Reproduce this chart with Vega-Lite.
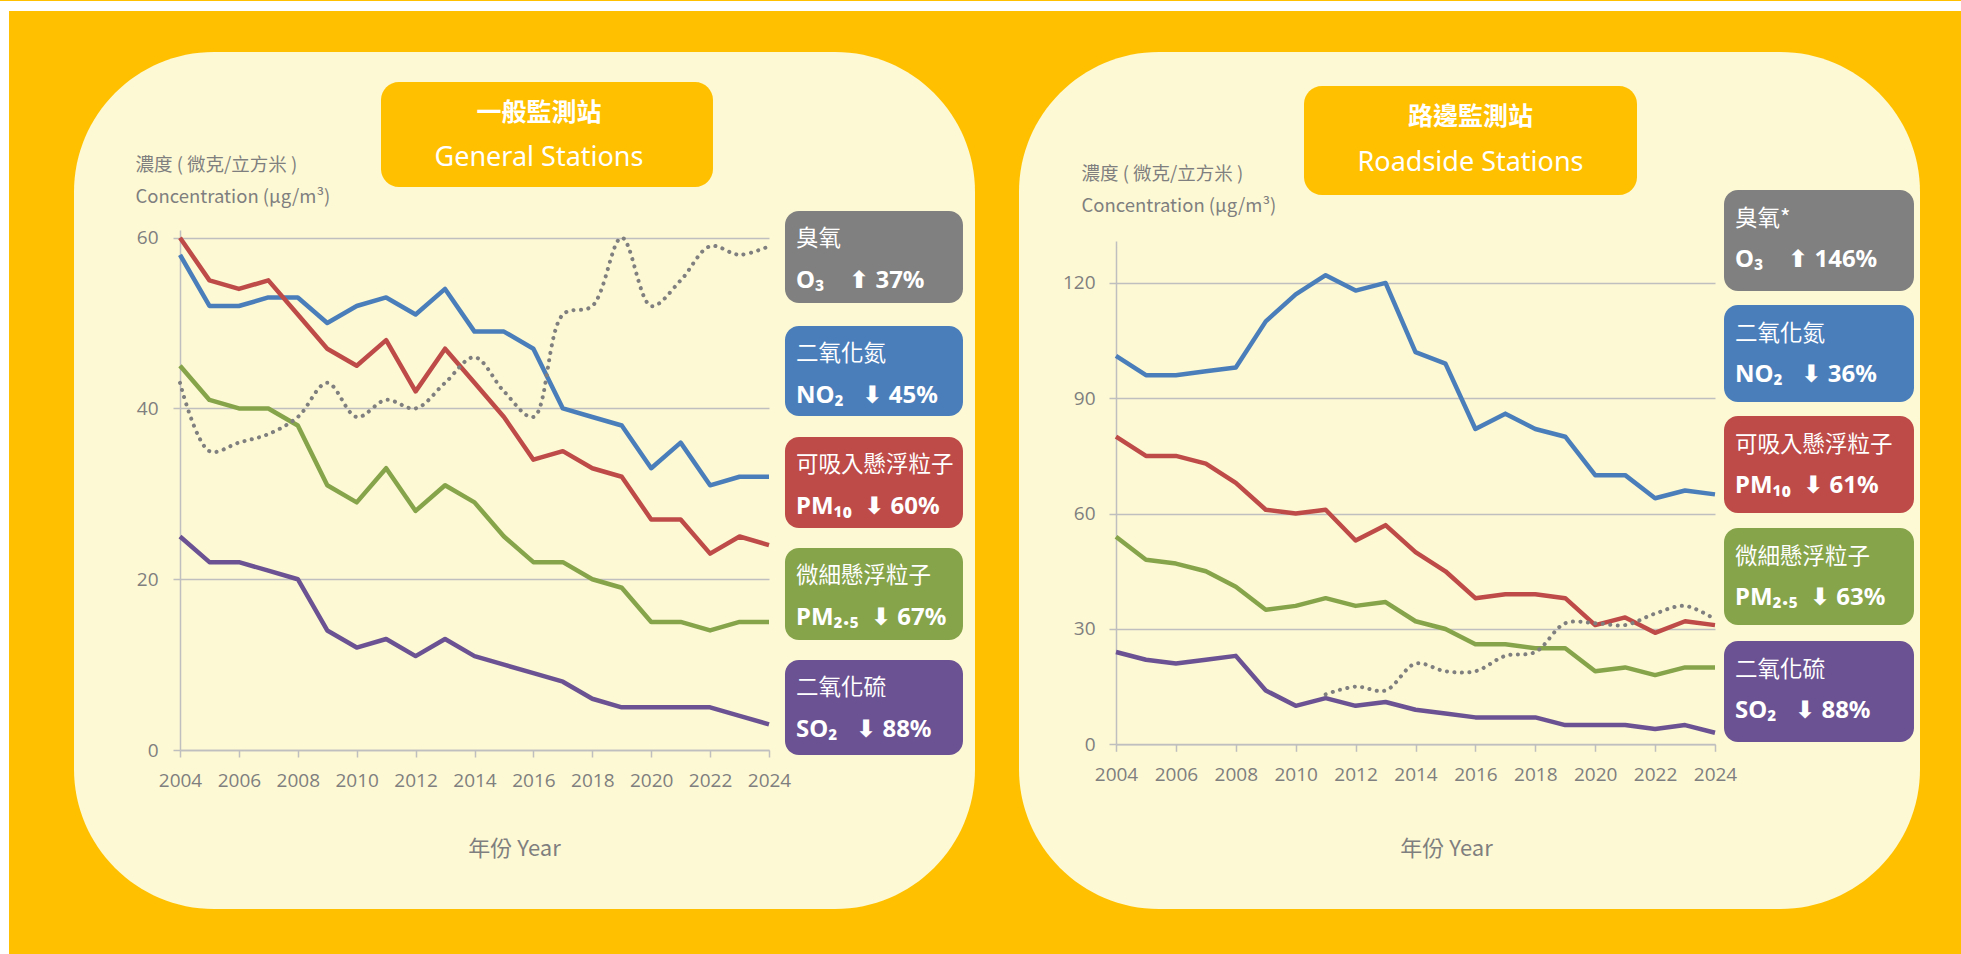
{
  "$schema": "https://vega.github.io/schema/vega-lite/v6.json",
  "background": "#FFC000",
  "padding": 0,
  "bounds": "flush",
  "spacing": 44,
  "config": {
    "view": {"stroke": null},
    "axis": {
      "domainColor": "#BFBFBF", "domainWidth": 1.5,
      "tickColor": "#BFBFBF", "tickWidth": 1.5, "tickSize": 7,
      "gridColor": "#BFBFBF", "gridWidth": 1.5,
      "labelColor": "#7F7F7F", "labelFont": "Open Sans", "labelFontSize": 19,
      "labelFlush": false, "labelOverlap": false,
      "titleColor": "#7F7F7F", "titleFont": "Noto Sans CJK TC", "titleFontWeight": "normal"
    }
  },
  "datasets": {
    "general": [
      {"Year": 2004, "NO2": 58, "PM10": 60, "PM25": 45, "SO2": 25, "O3": 43},
      {"Year": 2005, "NO2": 52, "PM10": 55, "PM25": 41, "SO2": 22, "O3": 35},
      {"Year": 2006, "NO2": 52, "PM10": 54, "PM25": 40, "SO2": 22, "O3": 36},
      {"Year": 2007, "NO2": 53, "PM10": 55, "PM25": 40, "SO2": 21, "O3": 37},
      {"Year": 2008, "NO2": 53, "PM10": 51, "PM25": 38, "SO2": 20, "O3": 39},
      {"Year": 2009, "NO2": 50, "PM10": 47, "PM25": 31, "SO2": 14, "O3": 43},
      {"Year": 2010, "NO2": 52, "PM10": 45, "PM25": 29, "SO2": 12, "O3": 39},
      {"Year": 2011, "NO2": 53, "PM10": 48, "PM25": 33, "SO2": 13, "O3": 41},
      {"Year": 2012, "NO2": 51, "PM10": 42, "PM25": 28, "SO2": 11, "O3": 40},
      {"Year": 2013, "NO2": 54, "PM10": 47, "PM25": 31, "SO2": 13, "O3": 43},
      {"Year": 2014, "NO2": 49, "PM10": 43, "PM25": 29, "SO2": 11, "O3": 46},
      {"Year": 2015, "NO2": 49, "PM10": 39, "PM25": 25, "SO2": 10, "O3": 42},
      {"Year": 2016, "NO2": 47, "PM10": 34, "PM25": 22, "SO2": 9, "O3": 39},
      {"Year": 2017, "NO2": 40, "PM10": 35, "PM25": 22, "SO2": 8, "O3": 51},
      {"Year": 2018, "NO2": 39, "PM10": 33, "PM25": 20, "SO2": 6, "O3": 52},
      {"Year": 2019, "NO2": 38, "PM10": 32, "PM25": 19, "SO2": 5, "O3": 60},
      {"Year": 2020, "NO2": 33, "PM10": 27, "PM25": 15, "SO2": 5, "O3": 52},
      {"Year": 2021, "NO2": 36, "PM10": 27, "PM25": 15, "SO2": 5, "O3": 55},
      {"Year": 2022, "NO2": 31, "PM10": 23, "PM25": 14, "SO2": 5, "O3": 59},
      {"Year": 2023, "NO2": 32, "PM10": 25, "PM25": 15, "SO2": 4, "O3": 58},
      {"Year": 2024, "NO2": 32, "PM10": 24, "PM25": 15, "SO2": 3, "O3": 59}
    ],
    "roadside": [
      {"Year": 2004, "NO2": 101, "PM10": 80, "PM25": 54, "SO2": 24, "O3": null},
      {"Year": 2005, "NO2": 96, "PM10": 75, "PM25": 48, "SO2": 22, "O3": null},
      {"Year": 2006, "NO2": 96, "PM10": 75, "PM25": 47, "SO2": 21, "O3": null},
      {"Year": 2007, "NO2": 97, "PM10": 73, "PM25": 45, "SO2": 22, "O3": null},
      {"Year": 2008, "NO2": 98, "PM10": 68, "PM25": 41, "SO2": 23, "O3": null},
      {"Year": 2009, "NO2": 110, "PM10": 61, "PM25": 35, "SO2": 14, "O3": null},
      {"Year": 2010, "NO2": 117, "PM10": 60, "PM25": 36, "SO2": 10, "O3": null},
      {"Year": 2011, "NO2": 122, "PM10": 61, "PM25": 38, "SO2": 12, "O3": 13},
      {"Year": 2012, "NO2": 118, "PM10": 53, "PM25": 36, "SO2": 10, "O3": 15},
      {"Year": 2013, "NO2": 120, "PM10": 57, "PM25": 37, "SO2": 11, "O3": 14},
      {"Year": 2014, "NO2": 102, "PM10": 50, "PM25": 32, "SO2": 9, "O3": 21},
      {"Year": 2015, "NO2": 99, "PM10": 45, "PM25": 30, "SO2": 8, "O3": 19},
      {"Year": 2016, "NO2": 82, "PM10": 38, "PM25": 26, "SO2": 7, "O3": 19},
      {"Year": 2017, "NO2": 86, "PM10": 39, "PM25": 26, "SO2": 7, "O3": 23},
      {"Year": 2018, "NO2": 82, "PM10": 39, "PM25": 25, "SO2": 7, "O3": 24},
      {"Year": 2019, "NO2": 80, "PM10": 38, "PM25": 25, "SO2": 5, "O3": 31.5},
      {"Year": 2020, "NO2": 70, "PM10": 31, "PM25": 19, "SO2": 5, "O3": 31.5},
      {"Year": 2021, "NO2": 70, "PM10": 33, "PM25": 20, "SO2": 5, "O3": 31},
      {"Year": 2022, "NO2": 64, "PM10": 29, "PM25": 18, "SO2": 4, "O3": 34},
      {"Year": 2023, "NO2": 66, "PM10": 32, "PM25": 20, "SO2": 5, "O3": 36},
      {"Year": 2024, "NO2": 65, "PM10": 31, "PM25": 20, "SO2": 3, "O3": 32.5}
    ]
  },
  "hconcat": [
    {
      "width": 901, "height": 857,
      "view": {"fill": "#FDF9D4", "cornerRadius": 140, "stroke": null},
      "layer": [
        {"data": {"values": [{}]}, "mark": {"type": "rect", "color": "white"},
         "encoding": {"x": {"datum": 1997.888}, "x2": {"datum": 2064.475}, "y": {"datum": 87.72}, "y2": {"datum": 86.55}}},
        {"data": {"values": [{}]}, "mark": {"type": "rect", "color": "white"},
         "encoding": {"x": {"datum": 1997.888}, "x2": {"datum": 1998.194}, "y": {"datum": 87.72}, "y2": {"datum": -24.01}}},
        {"data": {"values": [{}]}, "mark": {"type": "rect", "color": "#FFC000", "cornerRadius": 18},
         "encoding": {"x": {"datum": 2010.825}, "x2": {"datum": 2022.098}, "y": {"datum": 78.23}, "y2": {"datum": 65.94}}},
        {"data": {"values": [{}]}, "mark": {"type": "text", "text": "一般監測站", "font": "Noto Sans CJK TC", "fontSize": 25, "fontWeight": "bold", "color": "white", "align": "center", "baseline": "middle"},
         "encoding": {"x": {"datum": 2016.19}, "y": {"datum": 74.60}}},
        {"data": {"values": [{}]}, "mark": {"type": "text", "text": "General Stations", "font": "Noto Sans", "fontSize": 27, "color": "white", "align": "center", "baseline": "middle"},
         "encoding": {"x": {"datum": 2016.19}, "y": {"datum": 69.33}}},
        {
          "data": {"name": "general"},
          "transform": [{"fold": ["NO2", "PM10", "PM25", "SO2"], "as": ["Pollutant", "Value"]}],
          "mark": {"type": "line", "strokeWidth": 4.5, "strokeJoin": "round"},
          "encoding": {
            "x": {"field": "Year", "type": "quantitative",
                  "scale": {"domain": [2004, 2024], "range": [106, 695], "nice": false, "zero": false},
                  "axis": {"values": [2004, 2006, 2008, 2010, 2012, 2014, 2016, 2018, 2020, 2022, 2024], "format": "d", "grid": false, "offset": -159, "labelPadding": 14,
                           "title": "年份 Year", "titleX": 440, "titleY": 98, "titleFontSize": 22, "titleAlign": "center", "titleBaseline": "middle", "titleAnchor": null}},
            "y": {"field": "Value", "type": "quantitative",
                  "scale": {"domain": [0, 60.9], "range": [698, 178], "nice": false, "zero": false},
                  "axis": {"values": [0, 20, 40, 60], "grid": true, "offset": -106, "labelPadding": 15,
                           "title": ["濃度 ( 微克/立方米 )", "Concentration (μg/m³)"], "titleAngle": 0, "titleAlign": "left", "titleBaseline": "middle",
                           "titleX": -45, "titleY": 112, "titleFontSize": 18.5, "titleLineHeight": 32}},
            "color": {"field": "Pollutant", "type": "nominal", "legend": null,
                      "scale": {"domain": ["NO2", "PM10", "PM25", "SO2", "O3"], "range": ["#4A7EBB", "#BE4B48", "#86A44A", "#6B5292", "#7F7F7F"]}}
          }
        },
        {
          "data": {"name": "general"},
          "mark": {"type": "line", "strokeWidth": 4, "strokeCap": "round", "strokeDash": [0.1, 7.4], "interpolate": "catmull-rom", "color": "#7F7F7F"},
          "encoding": {
            "x": {"field": "Year", "type": "quantitative"},
            "y": {"field": "O3", "type": "quantitative"}
          }
        },
        {"data": {"values": [{}]}, "mark": {"type": "rect", "color": "#808080", "cornerRadius": 14},
         "encoding": {"x": {"datum": 2024.543}, "x2": {"datum": 2030.587}, "y": {"datum": 63.13}, "y2": {"datum": 52.35}}},
        {"data": {"values": [{}]}, "mark": {"type": "text", "text": "臭氧", "font": "Noto Sans CJK TC", "fontSize": 22.5, "color": "white", "align": "left", "baseline": "middle"},
         "encoding": {"x": {"datum": 2024.917}, "y": {"datum": 59.85}}},
        {"data": {"values": [{}]}, "mark": {"type": "text", "text": "O₃\u00a0\u00a0\u00a0 ⬆ 37%", "font": "Noto Sans, DejaVu Sans", "fontSize": 24, "fontWeight": "bold", "color": "white", "align": "left", "baseline": "middle"},
         "encoding": {"x": {"datum": 2024.917}, "y": {"datum": 54.93}}},
        {"data": {"values": [{}]}, "mark": {"type": "rect", "color": "#4A7EBB", "cornerRadius": 14},
         "encoding": {"x": {"datum": 2024.543}, "x2": {"datum": 2030.587}, "y": {"datum": 49.66}, "y2": {"datum": 39.12}}},
        {"data": {"values": [{}]}, "mark": {"type": "text", "text": "二氧化氮", "font": "Noto Sans CJK TC", "fontSize": 22.5, "color": "white", "align": "left", "baseline": "middle"},
         "encoding": {"x": {"datum": 2024.917}, "y": {"datum": 46.38}}},
        {"data": {"values": [{}]}, "mark": {"type": "text", "text": "NO₂\u00a0\u00a0 ⬇ 45%", "font": "Noto Sans, DejaVu Sans", "fontSize": 24, "fontWeight": "bold", "color": "white", "align": "left", "baseline": "middle"},
         "encoding": {"x": {"datum": 2024.917}, "y": {"datum": 41.46}}},
        {"data": {"values": [{}]}, "mark": {"type": "rect", "color": "#BE4B48", "cornerRadius": 14},
         "encoding": {"x": {"datum": 2024.543}, "x2": {"datum": 2030.587}, "y": {"datum": 36.66}, "y2": {"datum": 26.0}}},
        {"data": {"values": [{}]}, "mark": {"type": "text", "text": "可吸入懸浮粒子", "font": "Noto Sans CJK TC", "fontSize": 22.5, "color": "white", "align": "left", "baseline": "middle"},
         "encoding": {"x": {"datum": 2024.917}, "y": {"datum": 33.38}}},
        {"data": {"values": [{}]}, "mark": {"type": "text", "text": "PM₁₀\u00a0 ⬇ 60%", "font": "Noto Sans, DejaVu Sans", "fontSize": 24, "fontWeight": "bold", "color": "white", "align": "left", "baseline": "middle"},
         "encoding": {"x": {"datum": 2024.917}, "y": {"datum": 28.46}}},
        {"data": {"values": [{}]}, "mark": {"type": "rect", "color": "#86A44A", "cornerRadius": 14},
         "encoding": {"x": {"datum": 2024.543}, "x2": {"datum": 2030.587}, "y": {"datum": 23.66}, "y2": {"datum": 12.88}}},
        {"data": {"values": [{}]}, "mark": {"type": "text", "text": "微細懸浮粒子", "font": "Noto Sans CJK TC", "fontSize": 22.5, "color": "white", "align": "left", "baseline": "middle"},
         "encoding": {"x": {"datum": 2024.917}, "y": {"datum": 20.38}}},
        {"data": {"values": [{}]}, "mark": {"type": "text", "text": "PM₂.₅\u00a0 ⬇ 67%", "font": "Noto Sans, DejaVu Sans", "fontSize": 24, "fontWeight": "bold", "color": "white", "align": "left", "baseline": "middle"},
         "encoding": {"x": {"datum": 2024.917}, "y": {"datum": 15.46}}},
        {"data": {"values": [{}]}, "mark": {"type": "rect", "color": "#6B5292", "cornerRadius": 14},
         "encoding": {"x": {"datum": 2024.543}, "x2": {"datum": 2030.587}, "y": {"datum": 10.54}, "y2": {"datum": -0.59}}},
        {"data": {"values": [{}]}, "mark": {"type": "text", "text": "二氧化硫", "font": "Noto Sans CJK TC", "fontSize": 22.5, "color": "white", "align": "left", "baseline": "middle"},
         "encoding": {"x": {"datum": 2024.917}, "y": {"datum": 7.26}}},
        {"data": {"values": [{}]}, "mark": {"type": "text", "text": "SO₂\u00a0\u00a0 ⬇ 88%", "font": "Noto Sans, DejaVu Sans", "fontSize": 24, "fontWeight": "bold", "color": "white", "align": "left", "baseline": "middle"},
         "encoding": {"x": {"datum": 2024.917}, "y": {"datum": 2.34}}}
      ]
    },
    {
      "width": 901, "height": 857,
      "view": {"fill": "#FDF9D4", "cornerRadius": 140, "stroke": null},
      "layer": [
        {"data": {"values": [{}]}, "mark": {"type": "rect", "color": "#FFC000", "cornerRadius": 18},
         "encoding": {"x": {"datum": 2010.277}, "x2": {"datum": 2021.396}, "y": {"datum": 171.21}, "y2": {"datum": 142.86}}},
        {"data": {"values": [{}]}, "mark": {"type": "text", "text": "路邊監測站", "font": "Noto Sans CJK TC", "fontSize": 25, "fontWeight": "bold", "color": "white", "align": "center", "baseline": "middle"},
         "encoding": {"x": {"datum": 2015.837}, "y": {"datum": 163.15}}},
        {"data": {"values": [{}]}, "mark": {"type": "text", "text": "Roadside Stations", "font": "Noto Sans", "fontSize": 27, "color": "white", "align": "center", "baseline": "middle"},
         "encoding": {"x": {"datum": 2015.837}, "y": {"datum": 151.19}}},
        {
          "data": {"name": "roadside"},
          "transform": [{"fold": ["NO2", "PM10", "PM25", "SO2"], "as": ["Pollutant", "Value"]}],
          "mark": {"type": "line", "strokeWidth": 4.5, "strokeJoin": "round"},
          "encoding": {
            "x": {"field": "Year", "type": "quantitative",
                  "scale": {"domain": [2004, 2024], "range": [97, 696], "nice": false, "zero": false},
                  "axis": {"values": [2004, 2006, 2008, 2010, 2012, 2014, 2016, 2018, 2020, 2022, 2024], "format": "d", "grid": false, "offset": -164.7, "labelPadding": 14,
                           "title": "年份 Year", "titleX": 427, "titleY": 104, "titleFontSize": 22, "titleAlign": "center", "titleBaseline": "middle", "titleAnchor": null}},
            "y": {"field": "Value", "type": "quantitative",
                  "scale": {"domain": [0, 130.9], "range": [692.3, 189], "nice": false, "zero": false},
                  "axis": {"values": [0, 30, 60, 90, 120], "grid": true, "offset": -97, "labelPadding": 14,
                           "title": ["濃度 ( 微克/立方米 )", "Concentration (μg/m³)"], "titleAngle": 0, "titleAlign": "left", "titleBaseline": "middle",
                           "titleX": -35, "titleY": 121, "titleFontSize": 18.5, "titleLineHeight": 32}},
            "color": {"field": "Pollutant", "type": "nominal", "legend": null,
                      "scale": {"domain": ["NO2", "PM10", "PM25", "SO2", "O3"], "range": ["#4A7EBB", "#BE4B48", "#86A44A", "#6B5292", "#7F7F7F"]}}
          }
        },
        {
          "data": {"name": "roadside"},
          "mark": {"type": "line", "strokeWidth": 4, "strokeCap": "round", "strokeDash": [0.1, 7.4], "interpolate": "catmull-rom", "color": "#7F7F7F"},
          "encoding": {
            "x": {"field": "Year", "type": "quantitative"},
            "y": {"field": "O3", "type": "quantitative"}
          }
        },
        {"data": {"values": [{}]}, "mark": {"type": "rect", "color": "#808080", "cornerRadius": 14},
         "encoding": {"x": {"datum": 2024.301}, "x2": {"datum": 2030.644}, "y": {"datum": 144.17}, "y2": {"datum": 117.90}}},
        {"data": {"values": [{}]}, "mark": {"type": "text", "text": "臭氧*", "font": "Noto Sans CJK TC", "fontSize": 22.5, "color": "white", "align": "left", "baseline": "middle"},
         "encoding": {"x": {"datum": 2024.668}, "y": {"datum": 136.62}}},
        {"data": {"values": [{}]}, "mark": {"type": "text", "text": "O₃\u00a0\u00a0\u00a0 ⬆ 146%", "font": "Noto Sans, DejaVu Sans", "fontSize": 24, "fontWeight": "bold", "color": "white", "align": "left", "baseline": "middle"},
         "encoding": {"x": {"datum": 2024.668}, "y": {"datum": 125.96}}},
        {"data": {"values": [{}]}, "mark": {"type": "rect", "color": "#4A7EBB", "cornerRadius": 14},
         "encoding": {"x": {"datum": 2024.301}, "x2": {"datum": 2030.644}, "y": {"datum": 114.26}, "y2": {"datum": 89.03}}},
        {"data": {"values": [{}]}, "mark": {"type": "text", "text": "二氧化氮", "font": "Noto Sans CJK TC", "fontSize": 22.5, "color": "white", "align": "left", "baseline": "middle"},
         "encoding": {"x": {"datum": 2024.668}, "y": {"datum": 106.71}}},
        {"data": {"values": [{}]}, "mark": {"type": "text", "text": "NO₂\u00a0\u00a0 ⬇ 36%", "font": "Noto Sans, DejaVu Sans", "fontSize": 24, "fontWeight": "bold", "color": "white", "align": "left", "baseline": "middle"},
         "encoding": {"x": {"datum": 2024.668}, "y": {"datum": 96.05}}},
        {"data": {"values": [{}]}, "mark": {"type": "rect", "color": "#BE4B48", "cornerRadius": 14},
         "encoding": {"x": {"datum": 2024.301}, "x2": {"datum": 2030.644}, "y": {"datum": 85.39}, "y2": {"datum": 60.16}}},
        {"data": {"values": [{}]}, "mark": {"type": "text", "text": "可吸入懸浮粒子", "font": "Noto Sans CJK TC", "fontSize": 22.5, "color": "white", "align": "left", "baseline": "middle"},
         "encoding": {"x": {"datum": 2024.668}, "y": {"datum": 77.84}}},
        {"data": {"values": [{}]}, "mark": {"type": "text", "text": "PM₁₀\u00a0 ⬇ 61%", "font": "Noto Sans, DejaVu Sans", "fontSize": 24, "fontWeight": "bold", "color": "white", "align": "left", "baseline": "middle"},
         "encoding": {"x": {"datum": 2024.668}, "y": {"datum": 67.18}}},
        {"data": {"values": [{}]}, "mark": {"type": "rect", "color": "#86A44A", "cornerRadius": 14},
         "encoding": {"x": {"datum": 2024.301}, "x2": {"datum": 2030.644}, "y": {"datum": 56.26}, "y2": {"datum": 31.03}}},
        {"data": {"values": [{}]}, "mark": {"type": "text", "text": "微細懸浮粒子", "font": "Noto Sans CJK TC", "fontSize": 22.5, "color": "white", "align": "left", "baseline": "middle"},
         "encoding": {"x": {"datum": 2024.668}, "y": {"datum": 48.71}}},
        {"data": {"values": [{}]}, "mark": {"type": "text", "text": "PM₂.₅\u00a0 ⬇ 63%", "font": "Noto Sans, DejaVu Sans", "fontSize": 24, "fontWeight": "bold", "color": "white", "align": "left", "baseline": "middle"},
         "encoding": {"x": {"datum": 2024.668}, "y": {"datum": 38.05}}},
        {"data": {"values": [{}]}, "mark": {"type": "rect", "color": "#6B5292", "cornerRadius": 14},
         "encoding": {"x": {"datum": 2024.301}, "x2": {"datum": 2030.644}, "y": {"datum": 26.87}, "y2": {"datum": 0.60}}},
        {"data": {"values": [{}]}, "mark": {"type": "text", "text": "二氧化硫", "font": "Noto Sans CJK TC", "fontSize": 22.5, "color": "white", "align": "left", "baseline": "middle"},
         "encoding": {"x": {"datum": 2024.668}, "y": {"datum": 19.32}}},
        {"data": {"values": [{}]}, "mark": {"type": "text", "text": "SO₂\u00a0\u00a0 ⬇ 88%", "font": "Noto Sans, DejaVu Sans", "fontSize": 24, "fontWeight": "bold", "color": "white", "align": "left", "baseline": "middle"},
         "encoding": {"x": {"datum": 2024.668}, "y": {"datum": 8.66}}}
      ]
    }
  ]
}
